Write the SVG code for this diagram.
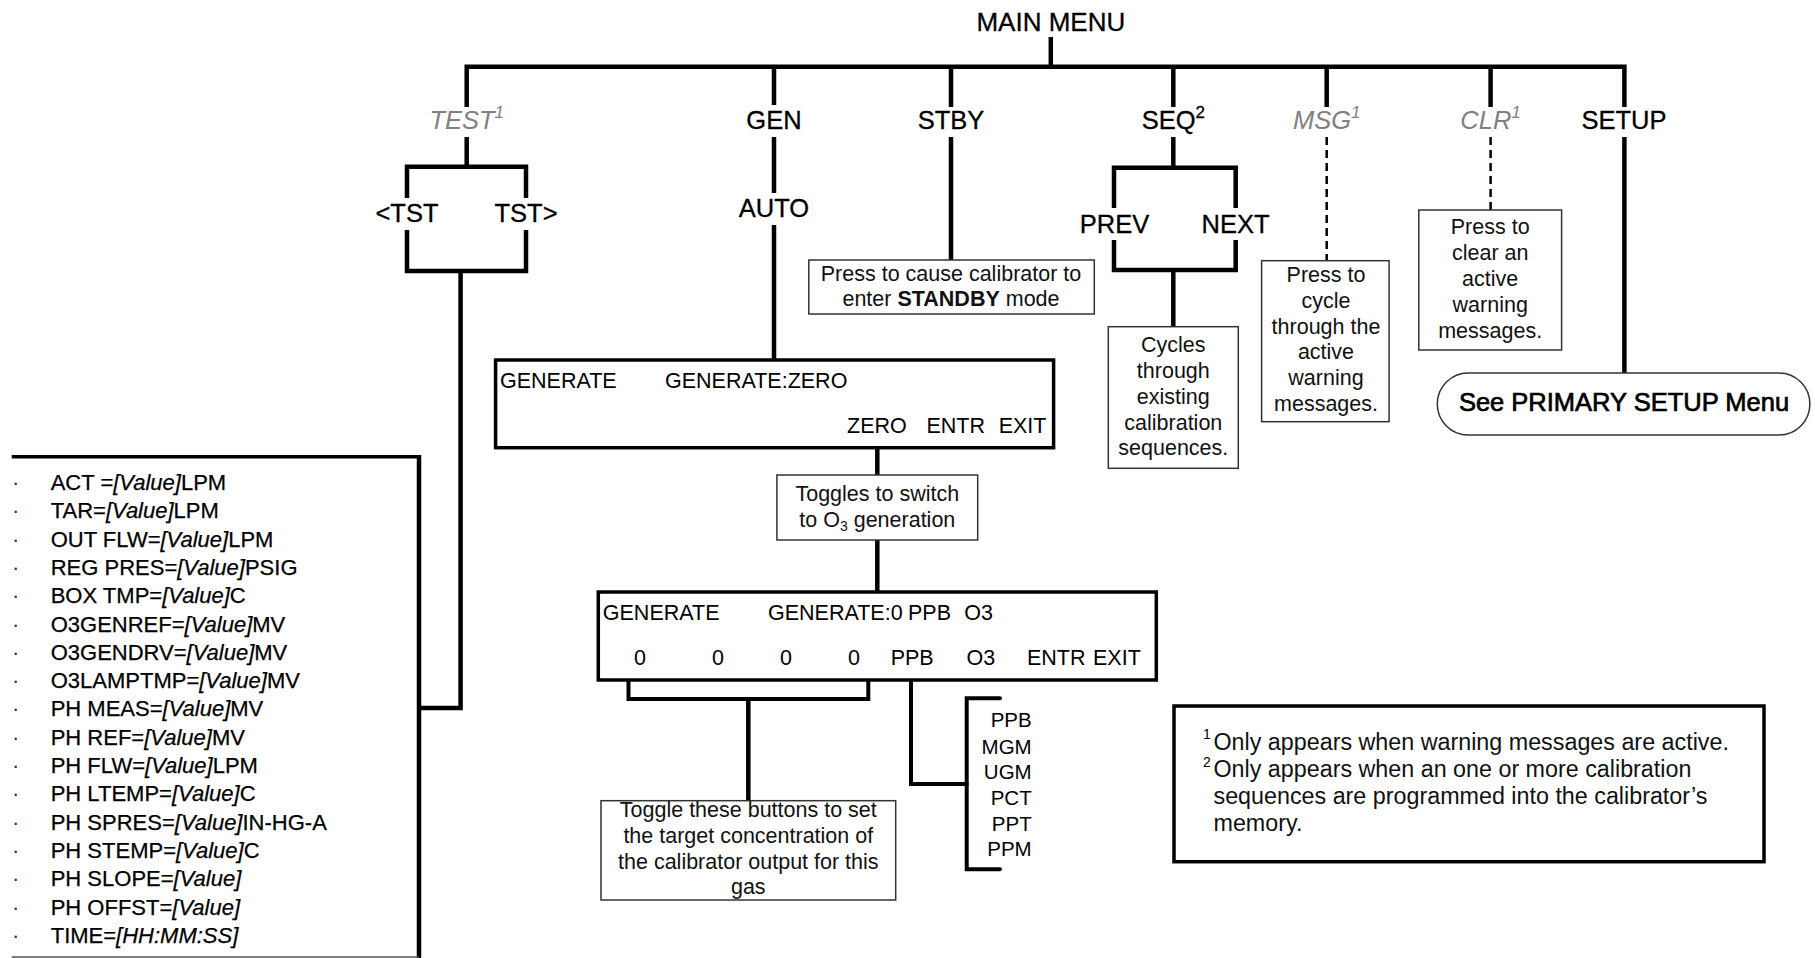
<svg xmlns="http://www.w3.org/2000/svg" width="1815" height="958" viewBox="0 0 1815 958">
  <style>
    text { font-family: "Liberation Sans", Arial, sans-serif; fill: #000; }
    .lbl { font-size: 25.5px; text-anchor: middle; stroke: #000; stroke-width: 0.3; }
    .opt { font-size: 25.5px; text-anchor: middle; fill: #808080; font-style: italic; }
    .opt tspan, .lbl tspan { font-size: 17px; }
    .desc { font-size: 21.5px; text-anchor: middle; fill: #111; }
    .scr { font-size: 21.5px; }
    .unit { font-size: 20.5px; text-anchor: end; }
    .item { font-size: 22px; stroke: #000; stroke-width: 0.25; }
    .item tspan.v { font-style: italic; }
    .dot { font-size: 22px; fill: #333; }
    .note { font-size: 23.3px; fill: #111; }
    .sup { font-size: 14px; }
    .wire { fill: none; stroke: #000; stroke-width: 4.5; stroke-linecap: butt; stroke-linejoin: miter; }
    .wire2 { fill: none; stroke: #000; stroke-width: 4; stroke-linecap: round; stroke-linejoin: miter; }
    .dash { fill: none; stroke: #000; stroke-width: 2.5; stroke-dasharray: 8 5; }
    .thin { fill: #fff; stroke: #333; stroke-width: 1.5; }
    .thick { fill: #fff; stroke: #000; stroke-width: 3.5; }
  </style>

  <!-- connectors -->
  <g id="connectors">
    <path class="wire" d="M1050.8,37 V66.7"/>
    <path class="wire" d="M466.7,107 V66.7 H1624.4 V107"/>
    <!-- TEST branch -->
    <path class="wire" d="M466.7,137 V166.7"/>
    <path class="wire" d="M407,198 V166.7 H526 V198"/>
    <path class="wire" d="M407,230 V271 H526 V230"/>
    <path class="wire" d="M460.6,271 V708 H419"/>
    <!-- GEN branch -->
    <path class="wire" d="M774,66.7 V105"/>
    <path class="wire" d="M774,137 V193"/>
    <path class="wire" d="M774,225 V360"/>
    <path class="wire" d="M877.3,438 V475"/>
    <path class="wire" d="M877.3,540 V600"/>
    <path class="wire2" d="M628.5,668 V699 H868.3 V668"/>
    <path class="wire" d="M748.3,699 V800"/>
    <path class="wire2" d="M911,671.7 V784 H966.7"/>
    <path class="wire2" d="M1000,698.3 H966.7 V869.3 H1000"/>
    <!-- STBY branch -->
    <path class="wire" d="M951,66.7 V107"/>
    <path class="wire" d="M951,137 V260"/>
    <!-- SEQ branch -->
    <path class="wire" d="M1173.3,66.7 V107"/>
    <path class="wire" d="M1173.3,137 V167.7"/>
    <path class="wire" d="M1114,208 V167.7 H1235.7 V208"/>
    <path class="wire" d="M1114,240 V270 H1235.7 V240"/>
    <path class="wire" d="M1173.3,270 V326.7"/>
    <!-- MSG branch -->
    <path class="wire" d="M1326.7,66.7 V107"/>
    <path class="dash" d="M1326.7,137 V260"/>
    <!-- CLR branch -->
    <path class="wire" d="M1490.6,66.7 V107"/>
    <path class="dash" d="M1490.6,137 V210"/>
    <!-- SETUP branch -->
    <path class="wire" d="M1624.4,137 V373"/>
  </g>

  <g id="main-menu"><text class="lbl" x="1050.8" y="31" style="font-size:26px">MAIN MENU</text></g>

  <g id="test"><text class="opt" x="466.7" y="129">TEST<tspan dy="-11">1</tspan></text></g>
  <g id="tst-prev"><text class="lbl" x="407" y="222">&lt;TST</text></g>
  <g id="tst-next"><text class="lbl" x="526" y="222">TST&gt;</text></g>

  <g id="gen"><text class="lbl" x="774" y="129">GEN</text></g>
  <g id="auto"><text class="lbl" x="774" y="217">AUTO</text></g>

  <g id="stby"><text class="lbl" x="951" y="129">STBY</text></g>
  <g id="stby-note">
    <rect class="thin" x="808.8" y="260" width="285.5" height="54"/>
    <text class="desc" x="951" y="281">Press to cause calibrator to</text>
    <text class="desc" x="951" y="306">enter <tspan font-weight="bold">STANDBY</tspan> mode</text>
  </g>

  <g id="seq"><text class="lbl" x="1173.3" y="129">SEQ<tspan dy="-11">2</tspan></text></g>
  <g id="prev"><text class="lbl" x="1114.5" y="232.5">PREV</text></g>
  <g id="next"><text class="lbl" x="1235.5" y="232.5">NEXT</text></g>
  <g id="seq-note">
    <rect class="thin" x="1108.3" y="326.7" width="130" height="141.6"/>
    <text class="desc" x="1173.3" y="352">Cycles</text>
    <text class="desc" x="1173.3" y="378">through</text>
    <text class="desc" x="1173.3" y="404">existing</text>
    <text class="desc" x="1173.3" y="430">calibration</text>
    <text class="desc" x="1173.3" y="455">sequences.</text>
  </g>

  <g id="msg"><text class="opt" x="1326.7" y="129">MSG<tspan dy="-11">1</tspan></text></g>
  <g id="msg-note">
    <rect class="thin" x="1261.6" y="260.7" width="127.5" height="161"/>
    <text class="desc" x="1326" y="282">Press to</text>
    <text class="desc" x="1326" y="308">cycle</text>
    <text class="desc" x="1326" y="334">through the</text>
    <text class="desc" x="1326" y="359">active</text>
    <text class="desc" x="1326" y="385">warning</text>
    <text class="desc" x="1326" y="411">messages.</text>
  </g>

  <g id="clr"><text class="opt" x="1490.6" y="129">CLR<tspan dy="-11">1</tspan></text></g>
  <g id="clr-note">
    <rect class="thin" x="1418.8" y="210" width="142.8" height="140"/>
    <text class="desc" x="1490.2" y="234">Press to</text>
    <text class="desc" x="1490.2" y="260">clear an</text>
    <text class="desc" x="1490.2" y="286">active</text>
    <text class="desc" x="1490.2" y="312">warning</text>
    <text class="desc" x="1490.2" y="338">messages.</text>
  </g>

  <g id="setup"><text class="lbl" x="1624" y="129">SETUP</text></g>
  <g id="setup-menu">
    <rect class="thin" x="1437.3" y="373" width="372.6" height="62" rx="31" ry="31"/>
    <text class="lbl" x="1624" y="410.7" style="stroke-width:0.7">See PRIMARY SETUP Menu</text>
  </g>

  <!-- generate screen, zero mode -->
  <g id="gen-zero">
    <rect class="thick" x="495.6" y="360" width="558" height="87.7"/>
    <text class="scr" x="500" y="388">GENERATE</text>
    <text class="scr" x="665" y="388">GENERATE:ZERO</text>
    <text class="scr" x="847" y="433">ZERO</text>
    <text class="scr" x="926.4" y="433">ENTR</text>
    <text class="scr" x="998.7" y="433">EXIT</text>
  </g>

  <g id="toggle-o3">
    <rect class="thin" x="776.9" y="475" width="200.8" height="65"/>
    <text class="desc" x="877.3" y="500.7">Toggles to switch</text>
    <text class="desc" x="877.3" y="526.7">to O<tspan font-size="14px" dy="4">3</tspan><tspan dy="-4"> generation</tspan></text>
  </g>

  <!-- generate screen, O3 mode -->
  <g id="gen-o3">
    <rect class="thick" x="598.3" y="592" width="558" height="88"/>
    <text class="scr" x="602.8" y="620">GENERATE</text>
    <text class="scr" x="768" y="620">GENERATE:0</text>
    <text class="scr" x="908" y="620">PPB</text>
    <text class="scr" x="964.3" y="620">O3</text>
    <text class="scr" x="634" y="665">0</text>
    <text class="scr" x="712" y="665">0</text>
    <text class="scr" x="780" y="665">0</text>
    <text class="scr" x="848" y="665">0</text>
    <text class="scr" x="890.7" y="665">PPB</text>
    <text class="scr" x="966.6" y="665">O3</text>
    <text class="scr" x="1027" y="665">ENTR</text>
    <text class="scr" x="1093" y="665">EXIT</text>
  </g>

  <g id="digits-note">
    <rect class="thin" x="601" y="800.7" width="294.7" height="99.3"/>
    <text class="desc" x="748.3" y="817.3">Toggle these buttons to set</text>
    <text class="desc" x="748.3" y="843.3">the target concentration of</text>
    <text class="desc" x="748.3" y="869.3">the calibrator output for this</text>
    <text class="desc" x="748.3" y="894">gas</text>
  </g>

  <g id="units">
    <text class="unit" x="1031.7" y="726.7">PPB</text>
    <text class="unit" x="1031.7" y="754">MGM</text>
    <text class="unit" x="1031.7" y="779.3">UGM</text>
    <text class="unit" x="1031.7" y="805">PCT</text>
    <text class="unit" x="1031.7" y="830.5">PPT</text>
    <text class="unit" x="1031.7" y="856">PPM</text>
  </g>

  <!-- test measurement list -->
  <g id="test-list">
    <path d="M11.7,456.7 H419" stroke="#000" stroke-width="3.5" fill="none"/>
    <path d="M419,455 V958" stroke="#000" stroke-width="4.5" fill="none"/>
    <path d="M11.7,957 H419" stroke="#555" stroke-width="1.5" fill="none"/>
    <g>
      <text class="dot" x="12" y="490">·</text>
      <text class="dot" x="12" y="518.3">·</text>
      <text class="dot" x="12" y="546.6">·</text>
      <text class="dot" x="12" y="574.9">·</text>
      <text class="dot" x="12" y="603.2">·</text>
      <text class="dot" x="12" y="631.5">·</text>
      <text class="dot" x="12" y="659.8">·</text>
      <text class="dot" x="12" y="688.1">·</text>
      <text class="dot" x="12" y="716.4">·</text>
      <text class="dot" x="12" y="744.7">·</text>
      <text class="dot" x="12" y="773">·</text>
      <text class="dot" x="12" y="801.3">·</text>
      <text class="dot" x="12" y="829.6">·</text>
      <text class="dot" x="12" y="857.9">·</text>
      <text class="dot" x="12" y="886.2">·</text>
      <text class="dot" x="12" y="914.5">·</text>
      <text class="dot" x="12" y="942.8">·</text>
    </g>
    <text class="item" x="50.7" y="490">ACT =<tspan class="v">[Value]</tspan>LPM</text>
    <text class="item" x="50.7" y="518.3">TAR=<tspan class="v">[Value]</tspan>LPM</text>
    <text class="item" x="50.7" y="546.6">OUT FLW=<tspan class="v">[Value]</tspan>LPM</text>
    <text class="item" x="50.7" y="574.9">REG PRES=<tspan class="v">[Value]</tspan>PSIG</text>
    <text class="item" x="50.7" y="603.2">BOX TMP=<tspan class="v">[Value]</tspan>C</text>
    <text class="item" x="50.7" y="631.5">O3GENREF=<tspan class="v">[Value]</tspan>MV</text>
    <text class="item" x="50.7" y="659.8">O3GENDRV=<tspan class="v">[Value]</tspan>MV</text>
    <text class="item" x="50.7" y="688.1">O3LAMPTMP=<tspan class="v">[Value]</tspan>MV</text>
    <text class="item" x="50.7" y="716.4">PH MEAS=<tspan class="v">[Value]</tspan>MV</text>
    <text class="item" x="50.7" y="744.7">PH REF=<tspan class="v">[Value]</tspan>MV</text>
    <text class="item" x="50.7" y="773">PH FLW=<tspan class="v">[Value]</tspan>LPM</text>
    <text class="item" x="50.7" y="801.3">PH LTEMP=<tspan class="v">[Value]</tspan>C</text>
    <text class="item" x="50.7" y="829.6">PH SPRES=<tspan class="v">[Value]</tspan>IN-HG-A</text>
    <text class="item" x="50.7" y="857.9">PH STEMP=<tspan class="v">[Value]</tspan>C</text>
    <text class="item" x="50.7" y="886.2">PH SLOPE=<tspan class="v">[Value]</tspan></text>
    <text class="item" x="50.7" y="914.5">PH OFFST=<tspan class="v">[Value]</tspan></text>
    <text class="item" x="50.7" y="942.8">TIME=<tspan class="v">[HH:MM:SS]</tspan></text>
  </g>

  <!-- footnotes -->
  <g id="footnotes">
    <rect class="thick" x="1174" y="706" width="590" height="155.7"/>
    <text class="sup" x="1203" y="739">1</text>
    <text class="note" x="1213.5" y="750">Only appears when warning messages are active.</text>
    <text class="sup" x="1203" y="767">2</text>
    <text class="note" x="1213.5" y="777">Only appears when an one or more calibration</text>
    <text class="note" x="1213.5" y="804">sequences are programmed into the calibrator’s</text>
    <text class="note" x="1213.5" y="830.5">memory.</text>
  </g>
</svg>
